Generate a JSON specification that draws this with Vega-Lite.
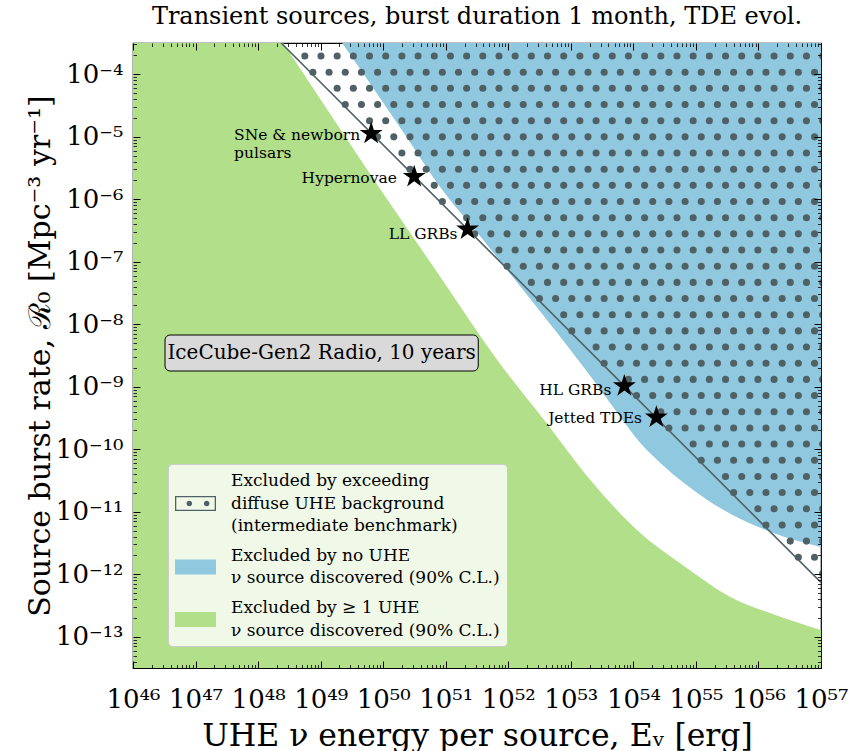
{
  "$schema": "https://vega.github.io/schema/vega-lite/v6.json",
  "width": 688,
  "height": 625,
  "autosize": {"type": "none"},
  "padding": {"left": 133, "top": 43, "right": 28, "bottom": 83},
  "background": "white",
  "title": {"text": "Transient sources, burst duration 1 month, TDE evol.", "frame": "group", "anchor": "middle", "font": "DejaVu Serif", "fontSize": 24, "fontWeight": "normal", "color": "black", "offset": 14},
  "config": {
    "view": {"stroke": "black", "strokeWidth": 1.2},
    "text": {"font": "DejaVu Serif", "color": "black"}
  },
  "datasets": {
    "green": [
      {"x": 46, "y": 0.1}, {"x": 48.4, "y": -3.5}, {"x": 49.952, "y": -5.836}, {"x": 50.912, "y": -7.24}, {"x": 51.824, "y": -8.572}, {"x": 52.592, "y": -9.556}, {"x": 53.312, "y": -10.492}, {"x": 54.112, "y": -11.34}, {"x": 54.832, "y": -11.884}, {"x": 55.552, "y": -12.364}, {"x": 56.272, "y": -12.652}, {"x": 57, "y": -12.892}
    ],
    "blue": [
      {"x": 49.344, "y": -3.5}, {"x": 50.384, "y": -5.02}, {"x": 50.864, "y": -5.74}, {"x": 51.6, "y": -6.652}, {"x": 52.112, "y": -7.292}, {"x": 52.72, "y": -8.06}, {"x": 53.36, "y": -8.892}, {"x": 53.792, "y": -9.484}, {"x": 54.112, "y": -9.9}, {"x": 54.432, "y": -10.22}, {"x": 55.184, "y": -10.812}, {"x": 56.24, "y": -11.34}, {"x": 57, "y": -11.564}
    ],
    "rows": [
      {"y": -3.708, "p": 0}, {"y": -3.9667, "p": 1}, {"y": -4.2254, "p": 0}, {"y": -4.4842, "p": 1}, {"y": -4.7429, "p": 0}, {"y": -5.0016, "p": 1}, {"y": -5.2603, "p": 0}, {"y": -5.519, "p": 1}, {"y": -5.7778, "p": 0}, {"y": -6.0365, "p": 1}, {"y": -6.2952, "p": 0}, {"y": -6.5539, "p": 1}, {"y": -6.8126, "p": 0}, {"y": -7.0714, "p": 1}, {"y": -7.3301, "p": 0}, {"y": -7.5888, "p": 1}, {"y": -7.8475, "p": 0}, {"y": -8.1062, "p": 1}, {"y": -8.365, "p": 0}, {"y": -8.6237, "p": 1}, {"y": -8.8824, "p": 0}, {"y": -9.1411, "p": 1}, {"y": -9.3998, "p": 0}, {"y": -9.6586, "p": 1}, {"y": -9.9173, "p": 0}, {"y": -10.176, "p": 1}, {"y": -10.4347, "p": 0}, {"y": -10.6934, "p": 1}, {"y": -10.9522, "p": 0}, {"y": -11.2109, "p": 1}, {"y": -11.4696, "p": 0}, {"y": -11.7283, "p": 1}, {"y": -11.987, "p": 0}, {"y": -12.2458, "p": 1}
    ],
    "cols": [
      {"p": 0, "xs": [48.4882, 48.7469, 49.0056, 49.2643, 49.523, 49.7818, 50.0405, 50.2992, 50.5579, 50.8166, 51.0754, 51.3341, 51.5928, 51.8515, 52.1102, 52.369, 52.6277, 52.8864, 53.1451, 53.4038, 53.6626, 53.9213, 54.18, 54.4387, 54.6974, 54.9562, 55.2149, 55.4736, 55.7323, 55.991, 56.2498, 56.5085, 56.7672, 57.0259]},
      {"p": 1, "xs": [48.6176, 48.8762, 49.135, 49.3937, 49.6524, 49.9111, 50.1699, 50.4286, 50.6873, 50.946, 51.2047, 51.4634, 51.7222, 51.9809, 52.2396, 52.4983, 52.757, 53.0158, 53.2745, 53.5332, 53.7919, 54.0506, 54.3094, 54.5681, 54.8268, 55.0855, 55.3442, 55.603, 55.8617, 56.1204, 56.3791, 56.6378, 56.8966]}
    ],
    "line": [{"x": 48.368, "y": -3.5}, {"x": 57, "y": -12.132}],
    "stars": [
      {"s": "SNe & newborn pulsars", "x": 49.808, "y": -4.95},
      {"s": "Hypernovae", "x": 50.496, "y": -5.639},
      {"s": "LL GRBs", "x": 51.349, "y": -6.481},
      {"s": "HL GRBs", "x": 53.856, "y": -8.988},
      {"s": "Jetted TDEs", "x": 54.368, "y": -9.489}
    ],
    "labels": [
      {"t": "Hypernovae", "x": 50.219, "y": -5.652},
      {"t": "LL GRBs", "x": 51.189, "y": -6.556},
      {"t": "HL GRBs", "x": 53.648, "y": -9.052},
      {"t": "Jetted TDEs", "x": 54.139, "y": -9.5}
    ],
    "sne": [{"t": "SNe & newborn\npulsars", "x": 47.616, "y": -5.052}],
    "box": [{"x1": 46.512, "x2": 51.52, "y1": -8.172, "y2": -8.748, "xm": 49.016, "ym": -8.46, "t": "IceCube-Gen2 Radio, 10 years"}],
    "leg": [{"k": "a"}, {"k": "b"}, {"k": "c"}]
  },
  "resolve": {"axis": {"x": "independent", "y": "independent"}},
  "layer": [
    {
      "data": {"name": "green"},
      "mark": {"type": "area", "color": "#b2df8a", "opacity": 1, "interpolate": "monotone", "clip": true},
      "encoding": {
        "x": {"field": "x", "type": "quantitative", "scale": {"domain": [46, 57], "nice": false, "zero": false},
          "axis": {"orient": "bottom", "zindex": 1, "domain": false, "grid": false,
            "values": [46,47,48,49,50,51,52,53,54,55,56,57],
            "tickSize": -7, "tickColor": "black", "tickWidth": 1,
            "labelExpr": "'10' + substring('⁰¹²³⁴⁵⁶⁷⁸⁹', floor(round(datum.value)/10), floor(round(datum.value)/10)+1) + substring('⁰¹²³⁴⁵⁶⁷⁸⁹', round(datum.value)%10, round(datum.value)%10+1)",
            "labelFont": "DejaVu Serif", "labelFontSize": 26, "labelColor": "black", "labelPadding": 25, "labelOverlap": false, "labelFlush": false, "labelBound": false,
            "title": "UHE ν energy per source, Eᵥ [erg]", "titleFont": "DejaVu Serif", "titleFontSize": 31.5, "titleFontWeight": "normal", "titleColor": "black", "titlePadding": 8}},
        "y": {"field": "y", "type": "quantitative", "scale": {"domain": [-13.5, -3.5], "nice": false, "zero": false},
          "axis": {"orient": "left", "zindex": 1, "domain": false, "grid": false,
            "values": [-13,-12,-11,-10,-9,-8,-7,-6,-5,-4],
            "tickSize": -7, "tickColor": "black", "tickWidth": 1,
            "labelExpr": "'10⁻' + (abs(round(datum.value)) >= 10 ? substring('⁰¹²³⁴⁵⁶⁷⁸⁹', floor(abs(round(datum.value))/10), floor(abs(round(datum.value))/10)+1) : '') + substring('⁰¹²³⁴⁵⁶⁷⁸⁹', abs(round(datum.value))%10, abs(round(datum.value))%10+1)",
            "labelFont": "DejaVu Serif", "labelFontSize": 26, "labelColor": "black", "labelPadding": 17, "labelOverlap": false, "labelFlush": false, "labelBound": false,
            "title": "Source burst rate, ℛ₀ [Mpc⁻³ yr⁻¹]", "titleFont": "DejaVu Serif", "titleFontSize": 30, "titleFontWeight": "normal", "titleColor": "black", "titlePadding": 0}},
        "y2": {"datum": -13.5}
      }
    },
    {
      "data": {"name": "blue"},
      "mark": {"type": "area", "color": "#8fc8df", "opacity": 1, "interpolate": "monotone", "clip": true},
      "encoding": {
        "x": {"field": "x", "type": "quantitative", "scale": {"domain": [46, 57], "nice": false, "zero": false},
          "axis": {"orient": "top", "zindex": 1, "domain": false, "grid": false, "labels": false, "title": null,
            "values": [46,47,48,49,50,51,52,53,54,55,56,57],
            "tickSize": -7, "tickColor": "black", "tickWidth": 1}},
        "y": {"field": "y", "type": "quantitative", "scale": {"domain": [-13.5, -3.5], "nice": false, "zero": false},
          "axis": {"orient": "right", "zindex": 1, "domain": false, "grid": false, "labels": false, "title": null,
            "values": [-13,-12,-11,-10,-9,-8,-7,-6,-5,-4],
            "tickSize": -7, "tickColor": "black", "tickWidth": 1}},
        "y2": {"datum": -3.5}
      }
    },
    {
      "data": {"name": "rows"},
      "transform": [
        {"lookup": "p", "from": {"data": {"name": "cols"}, "key": "p", "fields": ["xs"]}},
        {"flatten": ["xs"], "as": ["x"]},
        {"filter": "datum.x + datum.y > 44.852"}
      ],
      "mark": {"type": "circle", "size": 50, "color": "#4f6165", "opacity": 1, "clip": true},
      "encoding": {
        "x": {"field": "x", "type": "quantitative", "scale": {"domain": [46, 57], "nice": false, "zero": false},
          "axis": {"orient": "bottom", "zindex": 1, "domain": false, "grid": false, "labels": false, "title": null,
            "values": [46.301,46.477,46.602,46.699,46.778,46.845,46.903,46.954,47.301,47.477,47.602,47.699,47.778,47.845,47.903,47.954,48.301,48.477,48.602,48.699,48.778,48.845,48.903,48.954,49.301,49.477,49.602,49.699,49.778,49.845,49.903,49.954,50.301,50.477,50.602,50.699,50.778,50.845,50.903,50.954,51.301,51.477,51.602,51.699,51.778,51.845,51.903,51.954,52.301,52.477,52.602,52.699,52.778,52.845,52.903,52.954,53.301,53.477,53.602,53.699,53.778,53.845,53.903,53.954,54.301,54.477,54.602,54.699,54.778,54.845,54.903,54.954,55.301,55.477,55.602,55.699,55.778,55.845,55.903,55.954,56.301,56.477,56.602,56.699,56.778,56.845,56.903,56.954],
            "tickSize": -3.5, "tickColor": "black", "tickWidth": 0.8}},
        "y": {"field": "y", "type": "quantitative", "scale": {"domain": [-13.5, -3.5], "nice": false, "zero": false},
          "axis": {"orient": "left", "zindex": 1, "domain": false, "grid": false, "labels": false, "title": null,
            "values": [-13.398,-13.301,-13.222,-13.155,-13.097,-13.046,-12.699,-12.523,-12.398,-12.301,-12.222,-12.155,-12.097,-12.046,-11.699,-11.523,-11.398,-11.301,-11.222,-11.155,-11.097,-11.046,-10.699,-10.523,-10.398,-10.301,-10.222,-10.155,-10.097,-10.046,-9.699,-9.523,-9.398,-9.301,-9.222,-9.155,-9.097,-9.046,-8.699,-8.523,-8.398,-8.301,-8.222,-8.155,-8.097,-8.046,-7.699,-7.523,-7.398,-7.301,-7.222,-7.155,-7.097,-7.046,-6.699,-6.523,-6.398,-6.301,-6.222,-6.155,-6.097,-6.046,-5.699,-5.523,-5.398,-5.301,-5.222,-5.155,-5.097,-5.046,-4.699,-4.523,-4.398,-4.301,-4.222,-4.155,-4.097,-4.046,-3.699,-3.523],
            "tickSize": -3.5, "tickColor": "black", "tickWidth": 0.8}}
      }
    },
    {
      "data": {"name": "line"},
      "mark": {"type": "line", "color": "#4f6165", "strokeWidth": 1.6, "clip": true},
      "encoding": {
        "x": {"field": "x", "type": "quantitative", "scale": {"domain": [46, 57], "nice": false, "zero": false},
          "axis": {"orient": "top", "zindex": 1, "domain": false, "grid": false, "labels": false, "title": null,
            "values": [46.301,46.477,46.602,46.699,46.778,46.845,46.903,46.954,47.301,47.477,47.602,47.699,47.778,47.845,47.903,47.954,48.301,48.477,48.602,48.699,48.778,48.845,48.903,48.954,49.301,49.477,49.602,49.699,49.778,49.845,49.903,49.954,50.301,50.477,50.602,50.699,50.778,50.845,50.903,50.954,51.301,51.477,51.602,51.699,51.778,51.845,51.903,51.954,52.301,52.477,52.602,52.699,52.778,52.845,52.903,52.954,53.301,53.477,53.602,53.699,53.778,53.845,53.903,53.954,54.301,54.477,54.602,54.699,54.778,54.845,54.903,54.954,55.301,55.477,55.602,55.699,55.778,55.845,55.903,55.954,56.301,56.477,56.602,56.699,56.778,56.845,56.903,56.954],
            "tickSize": -3.5, "tickColor": "black", "tickWidth": 0.8}},
        "y": {"field": "y", "type": "quantitative", "scale": {"domain": [-13.5, -3.5], "nice": false, "zero": false},
          "axis": {"orient": "right", "zindex": 1, "domain": false, "grid": false, "labels": false, "title": null,
            "values": [-13.398,-13.301,-13.222,-13.155,-13.097,-13.046,-12.699,-12.523,-12.398,-12.301,-12.222,-12.155,-12.097,-12.046,-11.699,-11.523,-11.398,-11.301,-11.222,-11.155,-11.097,-11.046,-10.699,-10.523,-10.398,-10.301,-10.222,-10.155,-10.097,-10.046,-9.699,-9.523,-9.398,-9.301,-9.222,-9.155,-9.097,-9.046,-8.699,-8.523,-8.398,-8.301,-8.222,-8.155,-8.097,-8.046,-7.699,-7.523,-7.398,-7.301,-7.222,-7.155,-7.097,-7.046,-6.699,-6.523,-6.398,-6.301,-6.222,-6.155,-6.097,-6.046,-5.699,-5.523,-5.398,-5.301,-5.222,-5.155,-5.097,-5.046,-4.699,-4.523,-4.398,-4.301,-4.222,-4.155,-4.097,-4.046,-3.699,-3.523],
            "tickSize": -3.5, "tickColor": "black", "tickWidth": 0.8}}
      }
    },
    {
      "data": {"name": "box"},
      "mark": {"type": "rect", "fill": "#d9d9d9", "stroke": "black", "strokeWidth": 1, "cornerRadius": 5},
      "encoding": {
        "x": {"field": "x1", "type": "quantitative", "scale": {"domain": [46, 57], "nice": false, "zero": false}, "axis": null},
        "x2": {"field": "x2"},
        "y": {"field": "y1", "type": "quantitative", "scale": {"domain": [-13.5, -3.5], "nice": false, "zero": false}, "axis": null},
        "y2": {"field": "y2"}
      }
    },
    {
      "data": {"name": "box"},
      "mark": {"type": "text", "align": "center", "baseline": "middle", "font": "DejaVu Serif", "fontSize": 20, "color": "black"},
      "encoding": {
        "x": {"field": "xm", "type": "quantitative", "scale": {"domain": [46, 57], "nice": false, "zero": false}, "axis": null},
        "y": {"field": "ym", "type": "quantitative", "scale": {"domain": [-13.5, -3.5], "nice": false, "zero": false}, "axis": null},
        "text": {"field": "t"}
      }
    },
    {
      "data": {"name": "stars"},
      "mark": {"type": "point", "shape": "M0,-1L0.2245,-0.309L0.951,-0.309L0.3633,0.118L0.588,0.809L0,0.382L-0.588,0.809L-0.3633,0.118L-0.951,-0.309L-0.2245,-0.309Z", "filled": true, "color": "black", "size": 580, "opacity": 1},
      "encoding": {
        "x": {"field": "x", "type": "quantitative", "scale": {"domain": [46, 57], "nice": false, "zero": false}, "axis": null},
        "y": {"field": "y", "type": "quantitative", "scale": {"domain": [-13.5, -3.5], "nice": false, "zero": false}, "axis": null}
      }
    },
    {
      "data": {"name": "labels"},
      "mark": {"type": "text", "align": "right", "baseline": "middle", "font": "DejaVu Serif", "fontSize": 15.5, "color": "black"},
      "encoding": {
        "x": {"field": "x", "type": "quantitative", "scale": {"domain": [46, 57], "nice": false, "zero": false}, "axis": null},
        "y": {"field": "y", "type": "quantitative", "scale": {"domain": [-13.5, -3.5], "nice": false, "zero": false}, "axis": null},
        "text": {"field": "t"}
      }
    },
    {
      "data": {"name": "sne"},
      "mark": {"type": "text", "align": "left", "baseline": "alphabetic", "font": "DejaVu Serif", "fontSize": 15.5, "color": "black", "lineBreak": "\n", "lineHeight": 18},
      "encoding": {
        "x": {"field": "x", "type": "quantitative", "scale": {"domain": [46, 57], "nice": false, "zero": false}, "axis": null},
        "y": {"field": "y", "type": "quantitative", "scale": {"domain": [-13.5, -3.5], "nice": false, "zero": false}, "axis": null},
        "text": {"field": "t"}
      }
    },
    {
      "data": {"name": "leg"},
      "mark": {"type": "point", "filled": true, "opacity": 1, "clip": true},
      "encoding": {
        "x": {"datum": 30, "type": "quantitative", "scale": {"domain": [46, 57], "nice": false, "zero": false}, "axis": null},
        "y": {"datum": -20, "type": "quantitative", "scale": {"domain": [-13.5, -3.5], "nice": false, "zero": false}, "axis": null},
        "color": {"field": "k", "type": "nominal", "scale": {"domain": ["a", "b", "c"], "range": ["#4f6165", "#8fc8df", "#b2df8a"]},
          "legend": {"orient": "none", "legendX": 35, "legendY": 421, "title": " ", "titleFontSize": 5, "titlePadding": 7, "padding": 7, "fillColor": "#f0f8e8", "strokeColor": "#cccccc", "cornerRadius": 4,
            "symbolSize": 1681, "symbolStrokeWidth": 0, "symbolOpacity": 1, "labelFont": "DejaVu Serif", "labelFontSize": 17, "labelColor": "black", "labelLimit": 500, "labelOffset": 15, "rowPadding": 12.5,
            "labelExpr": "datum.value == 'a' ? ['Excluded by exceeding', 'diffuse UHE background', '(intermediate benchmark)'] : datum.value == 'b' ? ['Excluded by no UHE', 'ν source discovered (90% C.L.)'] : ['Excluded by ≥ 1 UHE', 'ν source discovered (90% C.L.)']",
            "encode": {"labels": {"update": {"lineHeight": {"value": 22.5}, "dy": {"signal": "datum.value == 'a' ? -22.5 : -11.25"}}}}}},
        "shape": {"field": "k", "type": "nominal", "scale": {"domain": ["a", "b", "c"], "range": ["M-1,-0.366H1V0.366H-1Z M-0.937,-0.303V0.303H0.937V-0.303Z M-0.439,0a0.137,0.137 0 1,0 0.274,0a0.137,0.137 0 1,0 -0.274,0Z M0.409,0a0.137,0.137 0 1,0 0.274,0a0.137,0.137 0 1,0 -0.274,0Z", "M-1,-0.366H1V0.366H-1Z", "M-1,-0.366H1V0.366H-1Z"]},
          "legend": {"orient": "none", "legendX": 35, "legendY": 421, "title": " "}}
      }
    }
  ]
}
